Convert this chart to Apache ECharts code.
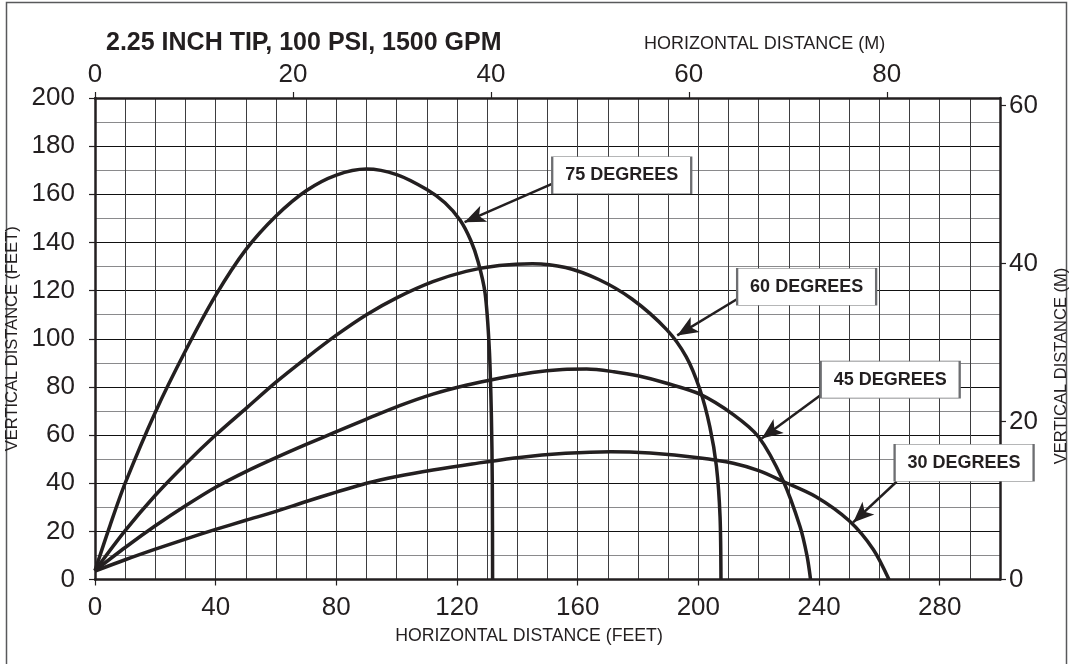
<!DOCTYPE html>
<html>
<head>
<meta charset="utf-8">
<script src="https://cdn.jsdelivr.net/npm/echarts@6/dist/echarts.min.js"></script>
<style>
  html, body { margin: 0; padding: 0; background: #fff; }
  #chart { width: 1070px; height: 664px; }
</style>
</head>
<body>
<div id="chart"></div>
<script>
// ---- data (feet) ----
const traj75 = [[0,3.7],[5,22.5],[10,40],[20,69.5],[30,95],[40,118],[50,137],[60,151],[70,161.5],[80,168],[90,170.5],[100,168.2],[110,162],[116,156.5],[121,149.3],[124.5,141],[127,132],[129.3,119],[130.7,96],[131.4,68],[131.7,40],[131.8,0]];
const traj60 = [[0,3.7],[10,20.3],[20,35],[30,48],[40,60],[50,71],[60,82],[70,92],[80,101.5],[90,110],[100,117],[112,123.7],[123,128],[134,130.4],[145,131.2],[156,129.6],[167,124.6],[178,116.5],[189.5,103.8],[196,92.5],[200.5,79],[203.8,63.5],[206,47],[207.2,26],[207.5,0]];
const traj45 = [[0,3.7],[10,13.3],[20,22.3],[30,30.6],[40,38.3],[50,44.8],[60,50.6],[70,56.1],[80,61.4],[90,66.6],[101,72.2],[112,77],[123,80.7],[134,83.6],[145,86],[155,87.2],[163,87.4],[172,86.3],[180,84.6],[189.5,81.5],[200.5,77],[211.6,68.5],[220,59.2],[228,41.3],[233.7,22],[236,10],[237.2,0]];
const traj30 = [[0,3.5],[10,8.2],[20,12.6],[30,16.8],[40,20.8],[50,24.6],[60,28.3],[70,32.4],[80,36.3],[90,40],[100,42.8],[112,45.5],[125,48],[140,50.6],[156,52.4],[171,53.1],[184,52.5],[200,50.6],[211.6,48.3],[220,45.2],[228,40.8],[239,34.4],[250,24.4],[258,12.5],[263.2,0]];
const seriesNames = ['75 DEGREES','60 DEGREES','45 DEGREES','30 DEGREES'];
// annotation anchors (feet): label box centre, arrow start, arrow tip
const labelAt   = [[174.6,167.9],[235.9,121.6],[263.6,83],[288.1,48.5]];
const arrowFrom = [[151.5,164.3],[212.9,116.5],[240.6,76.6],[265.7,40.6]];
const arrowTo   = [[122.5,148.4],[193,101.4],[221,58.6],[251.3,23.7]];
// axis ranges
const xMaxFt = 300, yMaxFt = 200, ftPerM = 3.28084;
const titleText = '2.25 INCH TIP, 100 PSI, 1500 GPM';

const FONT = '"Liberation Sans", Arial, Helvetica, sans-serif';
const FONTN = '"Liberation Sans Narrow", "Arial Narrow", "Liberation Sans", sans-serif';
const INK = '#231f20';
const chart = echarts.init(document.getElementById('chart'), null, {renderer: 'canvas'});

const trajs = [traj75, traj60, traj45, traj30];
const series = trajs.map((d, i) => ({
  name: seriesNames[i],
  type: 'line',
  data: d,
  xAxisIndex: 0, yAxisIndex: 0,
  showSymbol: false, symbol: 'none',
  smooth: 0.3,
  clip: false,
  lineStyle: {color: INK, width: 3.5},
  z: 5,
  markLine: {
    silent: true, animation: false,
    symbol: ['none', 'arrow'], symbolSize: [13, 21],
    lineStyle: {color: INK, width: 2.5, type: 'solid'},
    itemStyle: {color: INK},
    label: {show: false},
    data: [[{coord: arrowFrom[i]}, {coord: arrowTo[i]}]]
  },
  markPoint: {
    silent: true, animation: false,
    symbol: 'rect', symbolSize: [139, 37],
    itemStyle: {color: '#fff', borderColor: '#6d6e71', borderWidth: 1.2},
    label: {show: true, position: 'inside', formatter: seriesNames[i], color: INK,
            fontFamily: FONT, fontWeight: 'bold', fontSize: 18},
    data: [{coord: labelAt[i], name: seriesNames[i]}],
    z: 10
  }
}));

const axisLabelStyle = {color: INK, fontFamily: FONTN, fontSize: 26};

chart.setOption({
  animation: false,
  backgroundColor: '#fff',
  grid: {left: 95, top: 98, width: 905, height: 481.5, containLabel: false, outerBoundsMode: 'none'},
  xAxis: [
    { // bottom, feet
      type: 'value', position: 'bottom', min: 0, max: xMaxFt, interval: 40,
      axisLine: {show: true, onZero: false, lineStyle: {color: INK, width: 2.5}},
      axisTick: {show: true, length: 6, lineStyle: {color: INK, width: 1.2}},
      axisLabel: Object.assign({margin: 15, showMaxLabel: false}, axisLabelStyle),
      splitLine: {show: false},
      name: 'HORIZONTAL DISTANCE (FEET)', nameLocation: 'middle', nameGap: 48,
      nameTextStyle: {color: INK, fontFamily: FONT, fontSize: 17.7, padding: [0, 37, 0, 0]}
    },
    { // top, metres
      type: 'value', position: 'top', min: 0, max: xMaxFt / ftPerM, interval: 20,
      axisLine: {show: true, onZero: false, lineStyle: {color: INK, width: 2.5}},
      axisTick: {show: true, length: 6, lineStyle: {color: INK, width: 1.2}},
      axisLabel: Object.assign({margin: 10, showMaxLabel: false}, axisLabelStyle),
      splitLine: {show: false}
    },
    { // grid helper every 10 ft
      type: 'value', position: 'bottom', min: 0, max: xMaxFt, interval: 10,
      axisLine: {show: false}, axisTick: {show: false}, axisLabel: {show: false},
      splitLine: {show: true, lineStyle: {color: '#3d3d3f', width: 1}}
    }
  ],
  yAxis: [
    { // left, feet
      type: 'value', position: 'left', min: 0, max: yMaxFt, interval: 20,
      axisLine: {show: true, onZero: false, lineStyle: {color: INK, width: 2.5}},
      axisTick: {show: true, length: 6, lineStyle: {color: INK, width: 1.2}},
      axisLabel: Object.assign({margin: 20}, axisLabelStyle),
      splitLine: {show: false},
      name: 'VERTICAL DISTANCE (FEET)', nameLocation: 'middle', nameGap: 66,
      nameTextStyle: {color: INK, fontFamily: FONT, fontSize: 16.5}
    },
    { // right, metres
      type: 'value', position: 'right', min: 0, max: yMaxFt / ftPerM, interval: 20,
      axisLine: {show: true, onZero: false, lineStyle: {color: INK, width: 2.5}},
      axisTick: {show: true, length: 6, lineStyle: {color: INK, width: 1.2}},
      axisLabel: Object.assign({margin: 9, showMaxLabel: false}, axisLabelStyle),
      splitLine: {show: false}
    },
    { // grid helper every 10 ft, alternating dark / grey
      type: 'value', position: 'left', min: 0, max: yMaxFt, interval: 10,
      axisLine: {show: false}, axisTick: {show: false}, axisLabel: {show: false},
      splitLine: {show: true, lineStyle: {color: ['#111111', '#8a8a8c'], width: 1}}
    }
  ],
  graphic: [
    {type: 'rect', shape: {x: 6.5, y: 2.5, width: 1060, height: 680},
     style: {fill: 'none', stroke: '#58595b', lineWidth: 1.5}, z: 0, silent: true},
    {type: 'text', x: 106, y: 43, silent: true,
     style: {text: titleText, fill: INK, font: 'bold 25px ' + FONTN,
             verticalAlign: 'middle', align: 'left'}},
    {type: 'text', x: 644, y: 44, silent: true,
     style: {text: 'HORIZONTAL DISTANCE (M)', fill: INK, font: '18px ' + FONT,
             verticalAlign: 'middle', align: 'left'}},
    {type: 'text', x: 1061, y: 366, rotation: Math.PI / 2, silent: true,
     style: {text: 'VERTICAL DISTANCE (M)', fill: INK, font: '16.5px ' + FONT,
             verticalAlign: 'middle', align: 'center'}}
  ],
  series: series
});
</script>
</body>
</html>
